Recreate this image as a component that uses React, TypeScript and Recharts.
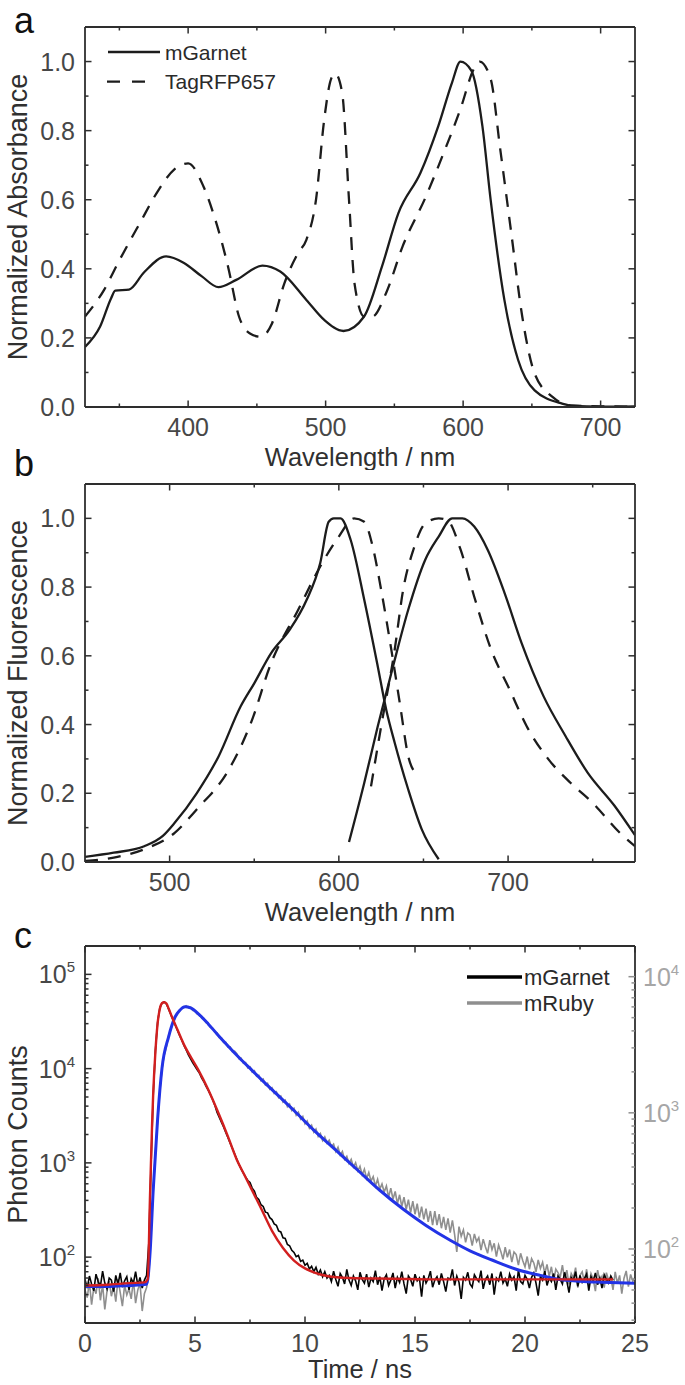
import React from 'react';
import { ComposedChart, Line, XAxis, YAxis, Label, Legend } from 'recharts';

const FONT = '"Liberation Sans", Arial, Helvetica, sans-serif';
const INK = '#2e2e2e';
const TICK_TEXT = '#474747';
const TITLE_TEXT = '#303030';
const GREY = '#8f8f8f';
const GREY_TEXT = '#a6a6a6';
const RED = '#d21f1f';
const BLUE = '#2233e6';

// ---- panel a: absorbance ----
const absGarnetNm = [325, 336, 344, 347, 357, 368, 384, 397, 410, 422, 435, 454, 467, 486, 499, 513, 528, 541, 553, 569, 582, 592, 598, 606, 614, 620, 630, 640, 652, 672, 680, 700, 725];
const absGarnet = [0.174, 0.233, 0.315, 0.337, 0.34, 0.39, 0.436, 0.417, 0.378, 0.347, 0.368, 0.409, 0.392, 0.31, 0.252, 0.22, 0.262, 0.407, 0.562, 0.678, 0.814, 0.94, 1.0, 0.974, 0.814, 0.6, 0.31, 0.136, 0.048, 0.01, 0.003, 0.001, 0.002];
const absTagNm = [325, 339, 349, 365, 378, 390, 400, 411, 419, 429, 437, 445, 453, 461, 470, 480, 486, 493, 499, 504, 507, 512, 517, 521, 528, 534, 544, 556, 573, 585, 598, 608, 612, 620, 627, 635, 643, 652, 665, 678, 700, 725];
const absTag = [0.262, 0.34, 0.417, 0.533, 0.625, 0.688, 0.705, 0.64, 0.552, 0.407, 0.262, 0.213, 0.203, 0.242, 0.358, 0.446, 0.484, 0.6, 0.833, 0.95, 0.965, 0.91, 0.6, 0.358, 0.262, 0.262, 0.33, 0.465, 0.61, 0.727, 0.862, 0.98, 1.0, 0.95, 0.746, 0.504, 0.262, 0.097, 0.029, 0.005, 0.002, 0.001];
const absTicksX = [350, 400, 450, 500, 550, 600, 650, 700];
const absMajorX = [400, 500, 600, 700];

// ---- panel b: fluorescence ----
const exGarnetNm = [450, 467, 485, 496, 503, 516, 529, 542, 550, 560, 571, 581, 589, 594, 597, 601, 607, 615, 623, 628, 633, 641, 649, 659];
const exGarnet = [0.015, 0.027, 0.046, 0.076, 0.114, 0.2, 0.308, 0.453, 0.52, 0.608, 0.676, 0.763, 0.87, 0.99, 1.0, 1.0, 0.937, 0.763, 0.569, 0.443, 0.347, 0.211, 0.095, 0.008];
const emGarnetNm = [606, 615, 623, 632, 641, 651, 659, 667, 673, 680, 688, 698, 708, 721, 734, 747, 763, 775];
const emGarnet = [0.058, 0.23, 0.395, 0.569, 0.734, 0.879, 0.947, 1.0, 1.0, 0.976, 0.908, 0.782, 0.637, 0.482, 0.366, 0.26, 0.163, 0.078];
const exTagNm = [450, 467, 485, 503, 516, 535, 548, 560, 576, 589, 600, 609, 615, 620, 625, 631, 636, 641, 646];
const exTag = [0.003, 0.013, 0.037, 0.085, 0.153, 0.269, 0.404, 0.579, 0.734, 0.86, 0.947, 1.0, 0.99, 0.918, 0.792, 0.618, 0.463, 0.308, 0.255];
const emTagNm = [619, 625, 633, 638, 644, 651, 659, 664, 672, 680, 690, 701, 711, 724, 737, 750, 766, 775];
const emTag = [0.22, 0.395, 0.618, 0.792, 0.908, 0.985, 1.0, 0.995, 0.908, 0.772, 0.618, 0.501, 0.395, 0.298, 0.23, 0.172, 0.085, 0.046];
const fluTicksX = [500, 550, 600, 650, 700, 750];
const fluMajorX = [500, 600, 700];

const normTicksY = [0, 0.1, 0.2, 0.3, 0.4, 0.5, 0.6, 0.7, 0.8, 0.9, 1.0];
const normMajorY = [0, 0.2, 0.4, 0.6, 0.8, 1.0];

// ---- panel c: fluorescence decays (sampled every 0.1 ns from t = 0) ----
const TIME_STEP = 0.1;
const garnetCounts = [
  58, 47, 63, 52, 44, 66, 55, 49, 71, 53, 46, 60, 57, 43, 64, 51, 68, 48, 56, 62, 45, 59, 53, 70, 50, 61, 47, 57,
  64, 140,
  900, 5200, 15500, 31000, 44000, 49500, 51000, 48500, 43000, 37500,
  33000, 29000, 25500, 22500, 20000, 17600, 15800, 14000, 12700, 11500,
  10600, 9700, 9000, 8000, 7300, 6500, 5900, 5300, 4700, 4100,
  3450, 3050, 2700, 2400, 2100, 1850, 1620, 1420, 1250, 1090,
  960, 860, 780, 710, 650, 620, 540, 500, 430, 410,
  360, 345, 300, 295, 262, 250, 225, 218, 190, 185,
  160, 158, 136, 132, 118, 112, 101, 104, 90, 93,
  82, 86, 75, 80, 70, 78, 66, 73, 62, 70,
  60,
  64, 55, 71, 58, 49, 67, 61, 52, 74, 57,
  50, 63, 56, 45, 69, 58, 53, 66, 48, 60,
  55, 72, 51, 62, 44, 59, 65, 50, 57, 68,
  47, 61, 54, 70, 52, 41, 63, 58, 49, 66,
  56, 60, 38, 64, 53, 59, 71, 48, 57, 62,
  51, 67, 55, 43, 60, 58, 74, 50, 63, 54,
  36, 61, 57, 69, 52, 48, 65, 59, 55, 72,
  46, 58, 63, 51, 67, 40, 60, 56, 70, 53,
  59, 49, 66, 57, 62, 44, 73, 55, 52, 64,
  58, 47, 61, 68, 53, 39, 62, 57, 71, 50,
  60, 55, 67, 45, 63, 58, 52, 69, 56, 42,
  61, 57, 70, 49, 64, 54, 59, 66, 44, 62,
  56, 68, 51, 60, 47, 65, 58, 53, 63, 57,
];
const rubyCounts = [
  50, 44, 57, 39, 52, 47, 61, 42, 55, 36, 49, 58, 45, 53, 41, 60, 48, 38, 54, 46, 51, 43, 59, 40, 50, 56, 35, 47, 52,
  66, 125, 262, 515, 880, 1430, 2090, 2650, 3060, 3680,
  4050, 4660, 5020, 5450, 5590, 5920, 5950, 6110, 5900, 5970,
  5650, 5620, 5330, 5310, 4980, 4930, 4610, 4560, 4250, 4190,
  3900, 3870, 3580, 3560, 3290, 3300, 3040, 3050, 2820, 2840,
  2720, 2490, 2520, 2310, 2340, 2140, 2180, 1990, 2040, 1860,
  1890, 1720, 1770, 1600, 1650, 1490, 1530, 1390, 1430, 1290,
  1330, 1200, 1240, 1110, 1160, 1040, 1080, 960, 1010, 900,
  940, 830, 870, 770, 810, 720, 760, 670, 705, 625,
  665, 600, 630, 565, 590, 520, 560, 490, 520, 455,
  480, 425, 455, 400, 430, 375, 405, 350, 385, 330,
  365, 315, 340, 290, 325, 275, 300, 262, 290, 240,
  280, 232, 265, 215, 250, 205, 240, 195, 230, 185,
  225, 180, 215, 170, 205, 165, 198, 158, 190, 150,
  190, 150, 180, 142, 172, 138, 168, 132, 162, 128,
  95, 146, 124, 138, 112, 131, 127, 106, 129, 113,
  121, 98, 118, 104, 93, 116, 99, 110, 88, 107,
  96, 84, 103, 87, 99, 80, 95, 91, 76, 93,
  82, 74, 88, 71, 85, 79, 68, 83, 72, 80,
  66, 77, 63, 74, 58, 71, 67, 62, 76, 60,
  70, 55, 66, 61, 73, 52, 64, 68, 57, 71,
  54, 66, 60, 49, 70, 58, 63, 52, 67, 59,
  62, 50, 68, 56, 64, 47, 61, 69, 53, 65,
  58, 62,
];
const garnetFitT = [0, 1, 2, 2.7, 2.85, 2.95, 3.05, 3.1, 3.2, 3.3, 3.4, 3.5, 3.6, 3.7, 3.8, 3.94, 4.2, 4.55, 4.85, 5.15, 5.6, 6.06, 6.5, 6.9, 7.2, 7.58, 8.0, 8.5, 9.0, 9.5, 10.0, 10.4, 11.0, 12.0, 14.0, 16.0, 18.0, 20.0, 22.0, 24.0];
const garnetFit = [50, 51, 53, 54, 58, 400, 2600, 5400, 15000, 30000, 43000, 49500, 50700, 49000, 43500, 36000, 26000, 17000, 12800, 9700, 6000, 3400, 1900, 1080, 780, 520, 330, 190, 125, 92, 76, 69, 63, 60, 59, 58, 58, 58, 58, 58];
const rubyFitT = [0, 1, 2, 2.8, 2.95, 3.1, 3.3, 3.5, 3.8, 4.1, 4.3, 4.55, 4.8, 5.2, 5.6, 6.0, 6.5, 7.0, 7.58, 8.5, 9.5, 10.4, 11.5, 12.5, 13.4, 14.5, 15.5, 16.6, 17.5, 18.5, 19.6, 20.7, 21.5, 22.5, 23.5, 25];
const rubyFit = [53, 53, 54, 55, 90, 270, 900, 2130, 3620, 5080, 5650, 6020, 5900, 5250, 4500, 3800, 3100, 2550, 2060, 1480, 1040, 746, 514, 366, 270, 194, 149, 116, 97, 83, 71, 64, 60, 58, 57, 56];

const timeTicks = [0, 2.5, 5, 7.5, 10, 12.5, 15, 17.5, 20, 22.5, 25];
const timeMajor = [0, 5, 10, 15, 20, 25];
const countTicks = [20, 30, 40, 50, 60, 70, 80, 90, 100, 200, 300, 400, 500, 600, 700, 800, 900, 1000, 2000, 3000, 4000, 5000, 6000, 7000, 8000, 9000, 10000, 20000, 30000, 40000, 50000, 60000, 70000, 80000, 90000, 100000];
const countMajor = [100, 1000, 10000, 100000];
const rubyTicks = [30, 40, 50, 60, 70, 80, 90, 100, 200, 300, 400, 500, 600, 700, 800, 900, 1000, 2000, 3000, 4000, 5000, 6000, 7000, 8000, 9000, 10000];
const rubyMajor = [100, 1000, 10000];

const zip = (xs: number[], ys: number[]) => xs.map((x, i) => ({ x, y: ys[i] }));
const sampled = (ys: number[]) => ys.map((y, i) => ({ x: Math.round(i * TIME_STEP * 100) / 100, y }));

type Side = 'bottom' | 'top' | 'left' | 'right';
interface TickOpts {
  majors: number[];
  label?: (v: number) => React.ReactNode;
  stroke?: string;
  fill?: string;
}

const isMajor = (v: number, majors: number[]) =>
  majors.some((m) => Math.abs(m - v) <= Math.abs(m) * 1e-6 + 1e-9);

// ticks point inwards; labels only on the major ones
function tickRenderer(side: Side, opts: TickOpts) {
  return (props: any) => {
    const { x, y, payload } = props;
    const v = payload.value as number;
    const major = isMajor(v, opts.majors);
    const len = major ? 6.5 : 3.5;
    const d =
      side === 'bottom' ? [x, y, x, y - len]
      : side === 'top' ? [x, y, x, y + len]
      : side === 'left' ? [x, y, x + len, y]
      : [x, y, x - len, y];
    let text: React.ReactNode = null;
    if (major && opts.label) {
      const common = { fontFamily: FONT, fontSize: 25, fill: opts.fill ?? TICK_TEXT };
      if (side === 'bottom') text = <text {...common} x={x} y={y + 29} textAnchor="middle">{opts.label(v)}</text>;
      else if (side === 'left') text = <text {...common} x={x - 10} y={y + 9} textAnchor="end">{opts.label(v)}</text>;
      else if (side === 'right') text = <text {...common} x={x + 8} y={y + 9} textAnchor="start">{opts.label(v)}</text>;
    }
    return (
      <g>
        <line x1={d[0]} y1={d[1]} x2={d[2]} y2={d[3]} stroke={opts.stroke ?? INK} strokeWidth={1.5} />
        {text}
      </g>
    );
  };
}

const plain = (v: number) => String(v);
const oneDecimal = (v: number) => v.toFixed(1);
const power = (v: number) => (
  <>
    <tspan>10</tspan>
    <tspan dy={-11} fontSize={15}>{Math.round(Math.log10(v))}</tspan>
  </>
);

const xTitle = (text: string, below: number) => (props: any) => {
  const vb = props.viewBox;
  return (
    <text x={vb.x + vb.width / 2} y={vb.y + below} textAnchor="middle" fontFamily={FONT} fontSize={25.5} fill={TITLE_TEXT}>
      {text}
    </text>
  );
};
const yTitle = (text: string) => (props: any) => {
  const vb = props.viewBox;
  const cx = 27;
  const cy = vb.y + vb.height / 2;
  return (
    <text x={cx} y={cy} transform={`rotate(-90, ${cx}, ${cy})`} textAnchor="middle" fontFamily={FONT} fontSize={27} fill={TITLE_TEXT}>
      {text}
    </text>
  );
};

// axes are 1px thick (a 0px axis is not drawn); the chart margins are reduced by 1px to match
const frameLine = { stroke: INK, strokeWidth: 1.8 };
const axisBase = { tickSize: 0, tickMargin: 0, tickLine: false, interval: 0 as const, allowDataOverflow: true };

function spectrumFrame(domainX: [number, number], ticksX: number[], majorX: number[], title: string, yLabel: string) {
  return [
    <XAxis key="xb" xAxisId="b" type="number" dataKey="x" domain={domainX} ticks={ticksX} height={1} axisLine={frameLine}
      tick={tickRenderer('bottom', { majors: majorX, label: plain })} {...axisBase}>
      <Label content={xTitle(title, 59)} />
    </XAxis>,
    <XAxis key="xt" xAxisId="t" orientation="top" type="number" dataKey="x" domain={domainX} ticks={ticksX} height={1} axisLine={frameLine}
      tick={tickRenderer('top', { majors: majorX })} {...axisBase} />,
    <YAxis key="yl" yAxisId="l" type="number" domain={[0, 1.1]} ticks={normTicksY} width={1} axisLine={frameLine}
      tick={tickRenderer('left', { majors: normMajorY, label: oneDecimal })} {...axisBase}>
      <Label content={yTitle(yLabel)} />
    </YAxis>,
    <YAxis key="yr" yAxisId="r" orientation="right" type="number" domain={[0, 1.1]} ticks={normTicksY} width={1} axisLine={frameLine}
      tick={tickRenderer('right', { majors: normMajorY })} {...axisBase} />,
  ];
}

const solid = { stroke: '#1c1c1c', strokeWidth: 2.3, dot: false, activeDot: false, isAnimationActive: false, type: 'monotone' as const };
const dashed = { ...solid, strokeDasharray: '13 10' };

function AbsLegend() {
  return (
    <svg width={200} height={70} style={{ overflow: 'visible' }}>
      <line x1={8} x2={60} y1={22} y2={22} stroke="#1c1c1c" strokeWidth={2.3} />
      <text x={65} y={29.5} fontFamily={FONT} fontSize={21} fill="#2a2a2a">mGarnet</text>
      <line x1={7} x2={46} y1={51.7} y2={51.7} stroke="#1c1c1c" strokeWidth={2.3} strokeDasharray="13 12" />
      <text x={65} y={59} fontFamily={FONT} fontSize={21} fill="#2a2a2a">TagRFP657</text>
    </svg>
  );
}

function DecayLegend() {
  return (
    <svg width={180} height={70} style={{ overflow: 'visible' }}>
      <line x1={7} x2={62} y1={32} y2={32} stroke="#000" strokeWidth={3.5} />
      <text x={64} y={40} fontFamily={FONT} fontSize={22} fill="#2a2a2a">mGarnet</text>
      <line x1={7} x2={62} y1={58} y2={58} stroke={GREY} strokeWidth={3.5} />
      <text x={64} y={66} fontFamily={FONT} fontSize={22} fill="#2a2a2a">mRuby</text>
    </svg>
  );
}

export default function App() {
  return (
    <div style={{ position: 'absolute', left: 0, top: 0, width: 685, height: 1385, background: '#fff', fontFamily: FONT }}>
      <div style={{ position: 'absolute', left: 0, top: 0 }}>
        <ComposedChart width={685} height={470} margin={{ top: 26, right: 49, bottom: 62, left: 84 }} style={{ overflow: 'visible' }}>
          {spectrumFrame([325, 725], absTicksX, absMajorX, 'Wavelength / nm', 'Normalized Absorbance')}
          <Line xAxisId="b" yAxisId="l" data={zip(absTagNm, absTag)} dataKey="y" name="TagRFP657" {...dashed} />
          <Line xAxisId="b" yAxisId="l" data={zip(absGarnetNm, absGarnet)} dataKey="y" name="mGarnet" {...solid} />
          <Legend layout="horizontal" verticalAlign="middle" align="center" content={() => <AbsLegend />}
            wrapperStyle={{ left: 100, top: 30, width: 200, height: 70 }} />
        </ComposedChart>
      </div>

      <div style={{ position: 'absolute', left: 0, top: 470 }}>
        <ComposedChart width={685} height={455} margin={{ top: 13, right: 49, bottom: 62, left: 84 }} style={{ overflow: 'visible' }}>
          {spectrumFrame([450, 775], fluTicksX, fluMajorX, 'Wavelength / nm', 'Normalized Fluorescence')}
          <Line xAxisId="b" yAxisId="l" data={zip(exTagNm, exTag)} dataKey="y" {...dashed} />
          <Line xAxisId="b" yAxisId="l" data={zip(emTagNm, emTag)} dataKey="y" {...dashed} />
          <Line xAxisId="b" yAxisId="l" data={zip(exGarnetNm, exGarnet)} dataKey="y" {...solid} />
          <Line xAxisId="b" yAxisId="l" data={zip(emGarnetNm, emGarnet)} dataKey="y" {...solid} />
        </ComposedChart>
      </div>

      <div style={{ position: 'absolute', left: 0, top: 925 }}>
        <ComposedChart width={685} height={460} margin={{ top: 20, right: 49, bottom: 61, left: 84 }} style={{ overflow: 'visible' }}>
          <XAxis xAxisId="b" type="number" dataKey="x" domain={[0, 25]} ticks={timeTicks} height={1} axisLine={frameLine}
            tick={tickRenderer('bottom', { majors: timeMajor, label: plain })} {...axisBase}>
            <Label content={xTitle('Time / ns', 55)} />
          </XAxis>
          <XAxis xAxisId="t" orientation="top" type="number" dataKey="x" domain={[0, 25]} ticks={timeTicks} height={1} axisLine={frameLine}
            tick={tickRenderer('top', { majors: timeMajor })} {...axisBase} />
          <YAxis yAxisId="l" scale="log" type="number" domain={[20, 200000]} ticks={countTicks} width={1} axisLine={frameLine}
            tick={tickRenderer('left', { majors: countMajor, label: power })} {...axisBase}>
            <Label content={yTitle('Photon Counts')} />
          </YAxis>
          <YAxis yAxisId="r" orientation="right" scale="log" type="number" domain={[28.6, 16800]} ticks={rubyTicks} width={1} axisLine={frameLine}
            tick={tickRenderer('right', { majors: rubyMajor, label: power, stroke: GREY, fill: GREY_TEXT })} {...axisBase} />
          <Line xAxisId="b" yAxisId="r" data={sampled(rubyCounts)} dataKey="y" name="mRuby" type="linear" stroke={GREY}
            strokeWidth={1.6} dot={false} activeDot={false} isAnimationActive={false} />
          <Line xAxisId="b" yAxisId="l" data={sampled(garnetCounts)} dataKey="y" name="mGarnet" type="linear" stroke="#050505"
            strokeWidth={1.6} dot={false} activeDot={false} isAnimationActive={false} />
          <Line xAxisId="b" yAxisId="r" data={zip(rubyFitT, rubyFit)} dataKey="y" type="monotone" stroke={BLUE}
            strokeWidth={3} dot={false} activeDot={false} isAnimationActive={false} />
          <Line xAxisId="b" yAxisId="l" data={zip(garnetFitT, garnetFit)} dataKey="y" type="monotone" stroke={RED}
            strokeWidth={2.4} dot={false} activeDot={false} isAnimationActive={false} />
          <Legend layout="horizontal" verticalAlign="middle" align="center" content={() => <DecayLegend />}
            wrapperStyle={{ left: 460, top: 20, width: 180, height: 70 }} />
        </ComposedChart>
      </div>

      <svg width={685} height={1385} style={{ position: 'absolute', left: 0, top: 0, pointerEvents: 'none' }}>
        <text x={14} y={33} fontFamily={FONT} fontSize={36} fill="#111">a</text>
        <text x={14} y={476} fontFamily={FONT} fontSize={36} fill="#111">b</text>
        <text x={14} y={948} fontFamily={FONT} fontSize={36} fill="#111">c</text>
      </svg>
    </div>
  );
}
